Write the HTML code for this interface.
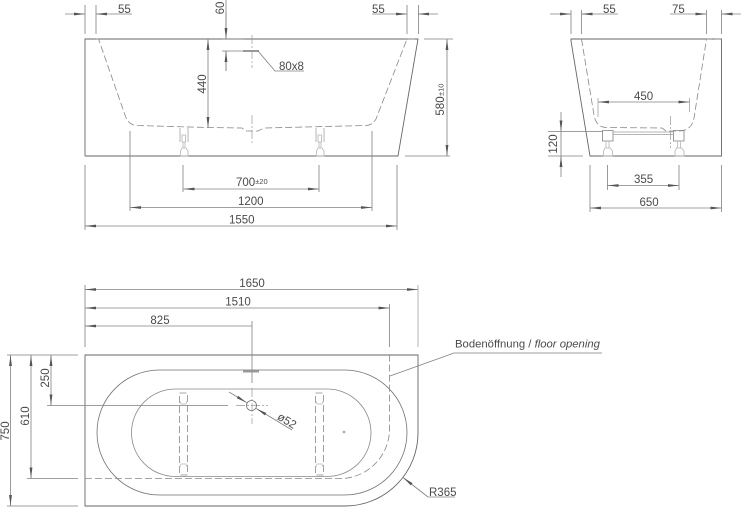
<!DOCTYPE html>
<html><head><meta charset="utf-8"><style>
html,body{margin:0;padding:0;background:#fff;width:742px;height:507px;overflow:hidden}
svg{display:block}
text{font-family:"Liberation Sans",sans-serif;font-size:11.5px;fill:#4a4a4a}
.l{fill:none;stroke:#808080;stroke-width:.8}
.g{fill:none;stroke:#b5b5b5;stroke-width:1}
.o{fill:none;stroke:#666;stroke-width:.9}
.s{fill:none;stroke:#707070;stroke-width:.8}
.d{fill:none;stroke:#888;stroke-width:.8;stroke-dasharray:7 3}
.c{fill:none;stroke:#999;stroke-width:.7;stroke-dasharray:9 2 2 2}
.a{fill:none;stroke:#808080;stroke-width:.8;marker-end:url(#m);marker-start:url(#m)}
.b{fill:none;stroke:#808080;stroke-width:.8;marker-end:url(#m)}
</style></head><body>
<svg width="742" height="507" viewBox="0 0 742 507" xmlns="http://www.w3.org/2000/svg">
<defs><marker id="m" markerUnits="userSpaceOnUse" markerWidth="12" markerHeight="4" refX="11" refY="2" orient="auto-start-reverse"><path d="M0 .6L11 2L0 3.4Z" fill="#555"/></marker></defs>

<!-- FRONT VIEW -->
<path class="o" d="M85 156V39H418L398 156H85"/>
<path class="d" d="M96 39H98.500L125 115Q128 125 137 125.500L207 127.500L242 128L246 131H258L264 128L366 125.500Q373 125 376 119L407 39H418"/>
<path class="c" d="M252 35V68M252 115V143"/>
<path class="l" d="M222 39H244M222 51H243"/>
<path d="M243 51H259" stroke="#999" stroke-width="2"/>
<path class="l" d="M258 51L275 71H304"/>
<!-- feet -->
<path class="g" d="M180 128V142M188 128V142"/><path class="g" style="stroke-width:.8" d="M182 135H185.500V142H182ZM183 142V148M185 142V148M182 148H186L188 151V156H180.500V151Z"/>
<path class="g" d="M316 128V142M324 128V142"/><path class="g" style="stroke-width:.8" d="M318 135H321.500V142H318ZM319 142V148M321 142V148M318 148H322L324 151V156H316.500V151Z"/>
<!-- top dims -->
<path class="l" d="M85 5V34M96 5V34M407 5V34M418.500 5V34M226 0V28M226 51V71"/>
<path class="b" d="M65 14H85"/><path class="b" d="M132 14H96"/>
<path class="b" d="M372 14H407"/><path class="b" d="M438 14H418"/>
<path class="b" d="M226 12V39"/><path class="b" d="M226 71V51"/>
<path class="a" d="M208 39V128"/>
<path class="l" d="M424 39H453M405 156H450"/>
<path class="a" d="M447 39V156"/>
<path class="l" d="M183 165V192M319 165V192M130 131V211M372 131V211M85 165V230M397 165V230"/>
<path class="a" d="M183.500 189H319"/>
<path class="a" d="M130 207.500H372"/>
<path class="a" d="M85 226H397"/>
<text x="118" y="13">55</text>
<text x="372" y="13">55</text>
<text x="279" y="70">80x8</text>
<text text-anchor="middle" transform="translate(224 8) rotate(-90)">60</text>
<text text-anchor="middle" transform="translate(206 84) rotate(-90)">440</text>
<text text-anchor="middle" transform="translate(444 106) rotate(-90)">580</text>
<text transform="translate(443.500 96) rotate(-90)" style="font-size:7.500px">±10</text>
<text x="236" y="186">700<tspan style="font-size:7.500px" dy="-2">±20</tspan></text>
<text x="238" y="205">1200</text>
<text x="229" y="223.500">1550</text>

<!-- SIDE VIEW -->
<path class="o" d="M571 39H721.500V156H590L571 41Z"/>
<path class="d" d="M581.500 39L594 115Q596 127 606 127.500L662 128L666 131H680Q692 130 694 118L706.500 39H721"/>
<path class="l" d="M571 10V34M581.500 10V34M706.500 10V34M721.500 10V34"/>
<path class="b" d="M550 14H571"/><path class="b" d="M618 14H581.500"/>
<path class="b" d="M670 14H706.500"/><path class="b" d="M741 14H721.500"/>
<path class="g" d="M598 117V98M689.500 112V98"/>
<path class="a" d="M598 102H689.500"/>
<path class="l" d="M548 131.500H603M548 156H583"/>
<path class="b" d="M561 112V131.500"/><path class="b" d="M561 177V156"/><path class="l" d="M561 131.500V156"/>
<path class="l" d="M602.500 130.500H613V141H602.500ZM673.500 130.500H684V141H673.500Z"/>
<path class="g" d="M613 132H674M613 134.500H674"/>
<path class="c" d="M670.500 116V148"/>
<path class="g" style="stroke-width:.8" d="M606 141V148M609 141V148M605 148H610L612.500 151V156H603.500V151ZM677.500 141V148M680.500 141V148M676.500 148H681.500L684 151V156H675V151Z"/>
<path class="l" d="M607.500 165V190M679 165V190M590 165V212M721.500 165V212"/>
<path class="a" d="M607.500 185.500H679"/>
<path class="a" d="M590 208H721.500"/>
<text x="603" y="13">55</text><text x="672" y="13">75</text>
<text x="634" y="100">450</text>
<text x="634" y="183">355</text>
<text x="639.500" y="206">650</text>
<text text-anchor="middle" transform="translate(557 144) rotate(-90)">120</text>

<!-- PLAN VIEW -->
<path class="o" d="M85 355H418V433A73 73 0 0 1 345 506H85Z"/>
<rect class="s" x="97" y="370" width="310" height="125" rx="62.500" ry="62.500"/>
<rect class="s" style="stroke:#888" x="131.500" y="389" width="239.500" height="87.500" rx="43.750" ry="43.750"/>
<path class="d" d="M85 478.500H340A49.500 49.500 0 0 0 389.500 429V355"/>
<path class="d" d="M179.500 393H187.500V475H179.500ZM315.500 393H323.500V475H315.500Z"/>
<path class="g" style="stroke-width:.7" d="M179.500 400L181 404H186L187.500 400M179.500 468L181 464H186L187.500 468M315.500 400L317 404H322L323.500 400M315.500 468L317 464H322L323.500 468"/>
<path class="l" d="M85 285V347M389.500 304V347"/><path class="g" d="M418 285V347"/>
<path class="a" d="M85 289.500H418"/>
<path class="a" d="M85 308H389.500"/>
<path class="b" d="M252 326H85"/>
<path class="l" d="M252 321V383"/>
<path d="M243 371.500H259" stroke="#999" stroke-width="2"/>
<path class="c" d="M252 388V424M236 405.500H268"/>
<circle class="s" cx="251.500" cy="405.500" r="5"/>
<path class="l" d="M47 405.500H228M7 355H78M7 506H78M27 478.500H78"/>
<path class="a" d="M10.500 355V506"/>
<path class="a" d="M31 355V478.500"/>
<path class="a" d="M51 355V405.500"/>
<path class="b" d="M229 392L246.900 402.700"/>
<path class="b" d="M292 430L256.200 408.500"/>
<path class="l" d="M344 430.500V433.500M342.500 432H345.500"/>
<path class="l" d="M390 376L454 353H602"/>
<path class="b" d="M428 497L403 477.500"/>
<path class="l" d="M428 497H455"/>
<text x="252" y="287" text-anchor="middle">1650</text>
<text x="238" y="305.500" text-anchor="middle">1510</text>
<text x="160" y="324" text-anchor="middle">825</text>
<text text-anchor="middle" transform="translate(9 431) rotate(-90)">750</text>
<text text-anchor="middle" transform="translate(29 416) rotate(-90)">610</text>
<text text-anchor="middle" transform="translate(49 378) rotate(-90)">250</text>
<text text-anchor="middle" transform="translate(285 424) rotate(31)">ø52</text>
<text x="455" y="347.500" style="font-size:11.300px">Bodenöffnung / <tspan font-style="italic">floor opening</tspan></text>
<text x="429" y="496">R365</text>
</svg>
</body></html>
